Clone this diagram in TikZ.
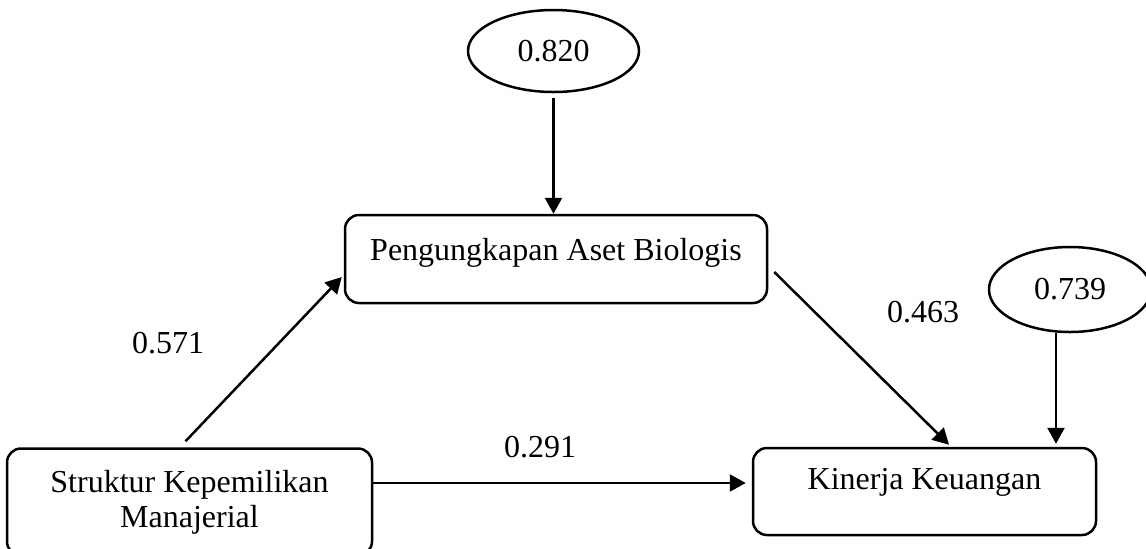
\documentclass[tikz,border=0pt]{standalone}
\usepackage{fontspec}
\setmainfont{Liberation Serif}
\usetikzlibrary{arrows.meta,shapes.geometric,calc}
\begin{document}
\begin{tikzpicture}[x=0.5pt,y=-0.5pt,
  every node/.style={font=\fontsize{16}{17.5}\selectfont},
  box/.style={draw,line width=1.25pt,rounded corners=7pt,inner xsep=0pt,inner ysep=0pt},
  oval/.style={draw,ellipse,line width=1.25pt,inner sep=0pt},
  arr/.style={line width=1.25pt,-{Triangle[length=8pt,width=8.5pt]}},
  lbl/.style={inner sep=0pt}]
\useasboundingbox (0,0) rectangle (1146,548);
% boxes
\node[box,minimum width=211pt,text height=22.5pt,text depth=21.5pt] (p) at (556,259) {Pengungkapan Aset Biologis};
\node[box,minimum width=171.5pt,text height=20.5pt,text depth=23pt] (k) at (924.5,491.5) {Kinerja Keuangan};
\node[box,minimum width=182.5pt,minimum height=53.5pt,align=center] (s) at (189.5,502) {Struktur Kepemilikan\\Manajerial};
% ellipses
\node[oval,minimum width=85.5pt,minimum height=41pt] (e1) at (553.5,51) {0.820};
\node[oval,minimum width=81pt,minimum height=42.5pt] (e2) at (1070,289.5) {0.739};
% arrows
\draw[arr,shorten <=2.5pt] (e1.south) -- (e1.south |- p.north);
\draw[arr,shorten >=1.5pt] (e2.-108.5) -- (e2.-108.5 |- k.north);
\draw[arr] ([shift={(-4,-6)}]s.north) -- ([shift={(-2,18)}]p.west);
\draw[arr] ([shift={(6,13)}]p.east) -- ([shift={(24.5,-2)}]k.north);
\coordinate (hy) at (0,483);
\draw[arr,shorten >=3pt] (s.east |- hy) -- (k.west |- hy);
% labels
\node[lbl] (l571) at (168,343) {0.571};
\node[lbl] (l291) at (540,447) {0.291};
\node[lbl] (l463) at (923,312) {0.463};
\end{tikzpicture}
\end{document}
